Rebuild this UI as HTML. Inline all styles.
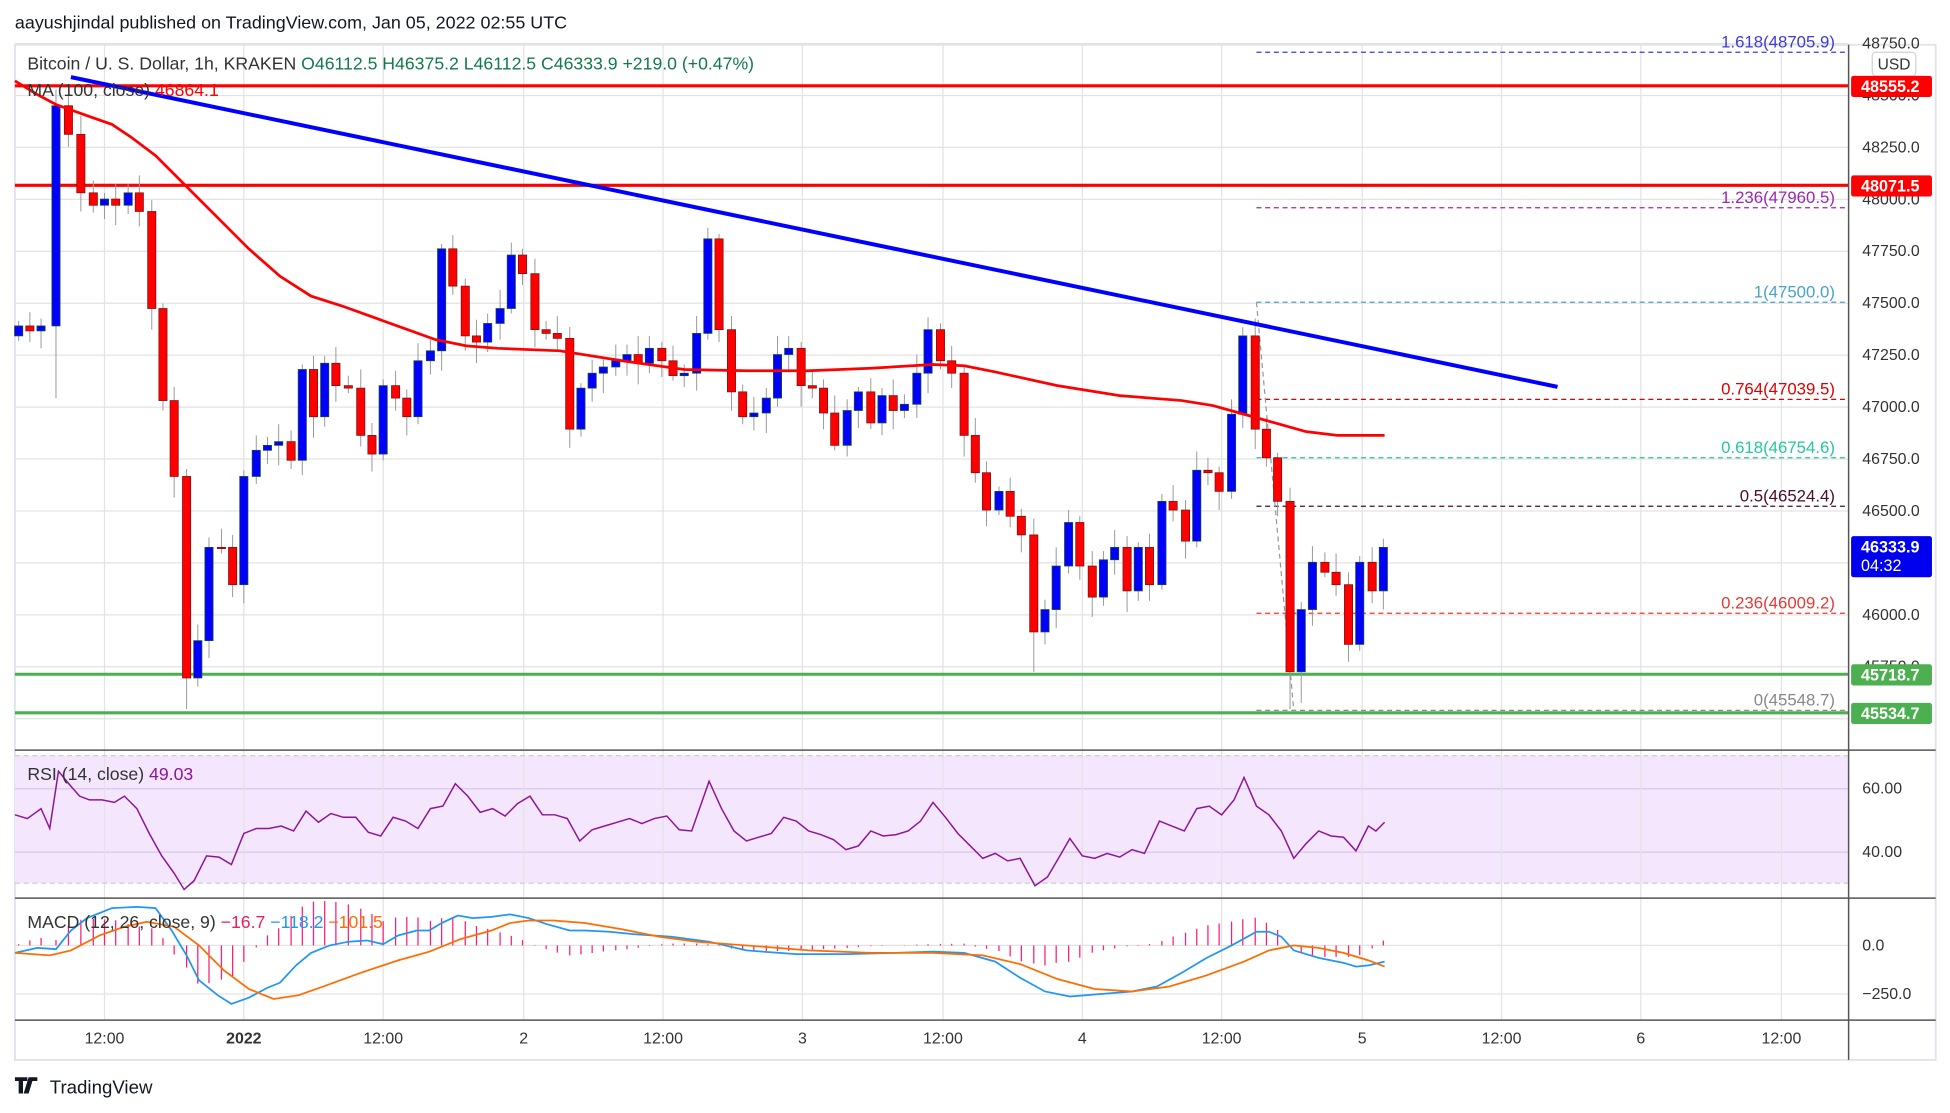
<!DOCTYPE html>
<html><head><meta charset="utf-8"><style>
html,body{margin:0;padding:0;background:#fff;width:1950px;height:1113px;overflow:hidden}
svg{display:block;font-family:"Liberation Sans",sans-serif}
</style></head><body>
<svg id="s" width="1950" height="1113" viewBox="0 0 1567.5 894.7" preserveAspectRatio="none" xmlns="http://www.w3.org/2000/svg">
<rect x="0" y="0" width="1567.5" height="894.7" fill="#fff"/>
<text x="12" y="23" font-size="14.4" fill="#131722">aayushjindal published on TradingView.com, Jan 05, 2022 02:55 UTC</text>
<rect x="12" y="36" width="1544" height="816" fill="#fff" stroke="#e0e3eb" stroke-width="1.5"/>
<rect x="12" y="607.5" width="1474" height="102.5" fill="#f3e6fd"/>
<g id="grid" stroke="#e3e3e3" stroke-width="1"></g>
<g stroke="#c8c8d0" stroke-width="0.9" stroke-dasharray="4,3"><line x1="12" y1="607.5" x2="1486" y2="607.5"/><line x1="12" y1="710" x2="1486" y2="710"/></g>
<g id="fib"></g>
<line x1="12" y1="69" x2="1486" y2="69" stroke="#f00" stroke-width="2.5"/>
<line x1="12" y1="149" x2="1486" y2="149" stroke="#f00" stroke-width="2.5"/>
<line x1="12" y1="542" x2="1486" y2="542" stroke="#4caf50" stroke-width="2.5"/>
<line x1="12" y1="573" x2="1486" y2="573" stroke="#4caf50" stroke-width="2.5"/>
<g id="candles"></g>
<polyline id="ma" fill="none" stroke="#f00" stroke-width="2.2"/>
<line x1="57" y1="62" x2="1252" y2="311" stroke="#0000ff" stroke-width="3.2"/>
<polyline id="rsi" fill="none" stroke="#8e1599" stroke-width="1.2"/>
<g id="hist" stroke="#ff1a75" stroke-width="1"></g>
<polyline id="ml" fill="none" stroke="#2196f3" stroke-width="1.4"/>
<polyline id="sl" fill="none" stroke="#ff6d00" stroke-width="1.4"/>
<g stroke="#555" stroke-width="1.2"><line x1="1486" y1="36" x2="1486" y2="852"/><line x1="12" y1="603" x2="1556" y2="603"/><line x1="12" y1="722" x2="1556" y2="722"/><line x1="12" y1="820" x2="1556" y2="820"/></g>
<g id="axis" font-size="12.8" fill="#333"></g>
<g font-size="14.2">
<text x="22" y="56" fill="#333">Bitcoin / U. S. Dollar, 1h, KRAKEN <tspan fill="#137a4a">O46112.5 H46375.2 L46112.5 C46333.9 +219.0 (+0.47%)</tspan></text>
<text x="22" y="77" fill="#333">MA (100, close) <tspan fill="#f00">46864.1</tspan></text>
<text x="22" y="627" fill="#333">RSI (14, close) <tspan fill="#8e1599">49.03</tspan></text>
<text x="22" y="746" fill="#333">MACD (12, 26, close, 9) <tspan fill="#e91e63">−16.7</tspan> <tspan fill="#2196f3">−118.2</tspan> <tspan fill="#ff6d00">−101.5</tspan></text>
</g>
<rect x="1505" y="42" width="35" height="19" rx="3" fill="#fff" stroke="#d0d3db"/>
<text x="1522.5" y="56" font-size="12.5" fill="#333" text-anchor="middle">USD</text>
<g font-size="13" font-weight="bold" fill="#fff">
<rect x="1488" y="61" width="65" height="17" rx="2" fill="#f00"/><text x="1496" y="74">48555.2</text>
<rect x="1488" y="141" width="65" height="17" rx="2" fill="#f00"/><text x="1496" y="154">48071.5</text>
<rect x="1488" y="534" width="65" height="17" rx="2" fill="#4caf50"/><text x="1496" y="547">45718.7</text>
<rect x="1488" y="565" width="65" height="17" rx="2" fill="#4caf50"/><text x="1496" y="578">45534.7</text>
<rect x="1488" y="431" width="65" height="33" rx="2" fill="#0000ee"/><text x="1496" y="444">46333.9</text><text x="1496" y="459" font-weight="normal">04:32</text>
</g>
<g transform="translate(12,866)"><path d="M0 0h10v3h-3.5v10h-3.5v-10h-3z M11 0h4l-4 13h-4z M13 0h5v3h-4z" fill="#131722"/></g>
<text x="40" y="879" font-size="15" fill="#131722">TradingView</text>
</svg>
<script>
const NS="http://www.w3.org/2000/svg";
function el(p,t,a){const e=document.createElementNS(NS,t);for(const k in a)e.setAttribute(k,a[k]);p.appendChild(e);return e;}
const g=document.getElementById('grid'),ax=document.getElementById('axis');
const py=p=>35+(48750-p)/250*41.75;
for(let p=45500;p<=48750;p+=250){const y=py(p);el(g,'line',{x1:12,y1:y,x2:1486,y2:y});if(p>45500){const t=el(ax,'text',{x:1497,y:y+4});t.textContent=p.toFixed(1);}}
[634,685].forEach((y,i)=>{el(g,'line',{x1:12,y1:y,x2:1486,y2:y,stroke:'#d8c8e8'});const t=el(ax,'text',{x:1497,y:y+4});t.textContent=i?'40.00':'60.00';});
[760,799].forEach((y,i)=>{el(g,'line',{x1:12,y1:y,x2:1486,y2:y});const t=el(ax,'text',{x:1497,y:y+4});t.textContent=i?'−250.0':'0.0';});
const xs=[[84,'12:00'],[196,'2022'],[308,'12:00'],[421,'2'],[533,'12:00'],[645,'3'],[758,'12:00'],[870,'4'],[982,'12:00'],[1095,'5'],[1207,'12:00'],[1319,'6'],[1432,'12:00']];
xs.forEach(([x,l])=>{el(g,'line',{x1:x,y1:36,x2:x,y2:820});const t=el(ax,'text',{x:x,y:839,'text-anchor':'middle','font-weight':l=='2022'?'bold':'normal'});t.textContent=l;});
const f=document.getElementById('fib');
[[42,'#3d3dd6','1.618(48705.9)'],[167,'#9c27b0','1.236(47960.5)'],[243,'#4aa3c8','1(47500.0)'],[321,'#d00','0.764(47039.5)'],[368,'#26c6a0','0.618(46754.6)'],[407,'#4a0d2a','0.5(46524.4)'],[493,'#e53935','0.236(46009.2)'],[571,'#888','0(45548.7)']].forEach(([y,c,l])=>{
el(f,'line',{x1:1010,y1:y,x2:1486,y2:y,stroke:c,'stroke-width':1,'stroke-dasharray':'4,3'});
const t=el(f,'text',{x:1475,y:y-4,'text-anchor':'end','font-size':13.5,fill:c});t.textContent=l;});
el(f,'line',{x1:1010,y1:243,x2:1040,y2:571,stroke:'#999','stroke-width':1,'stroke-dasharray':'4,3'});
const C=[[15,262],[24,266],[33,262],[45,85],[55,108],[65,155],[75,165],[84,160],[93,165],[103,155],[112,170],[122,248],[131,322],[140,383],[150,545],[159,515],[168,440],[178,440],[187,470],[196,383],[206,362],[215,358],[224,355],[234,370],[243,297],[252,335],[261,292],[270,310],[280,312],[290,350],[299,365],[308,310],[318,320],[327,335],[336,290],[346,282],[355,200],[364,230],[374,270],[383,275],[392,260],[402,248],[411,205],[420,220],[430,265],[439,268],[448,272],[458,345],[467,312],[476,300],[485,295],[495,290],[504,285],[513,292],[522,280],[532,290],[541,302],[550,300],[560,268],[569,192],[578,265],[588,315],[597,335],[606,332],[616,320],[625,285],[634,280],[644,310],[653,312],[662,332],[671,358],[681,330],[690,315],[700,340],[709,318],[718,330],[727,325],[737,300],[746,265],[756,290],[765,300],[775,350],[784,380],[793,410],[803,395],[812,415],[821,430],[831,508],[840,490],[849,455],[859,420],[868,455],[878,480],[887,450],[896,440],[906,475],[915,440],[924,470],[934,403],[943,410],[953,435],[962,378],[971,380],[980,395],[990,333],[999,270],[1009,345],[1018,368],[1027,403],[1037,540],[1046,490],[1055,452],[1065,460],[1074,470],[1084,518],[1093,452],[1103,475],[1112,440]];
const cg=document.getElementById('candles');
const lows={150:570,159:552,1037:570,1046:565,831:540,45:320,140:400};
let o=270;
C.forEach(([x,c],i)=>{const up=c<o;const top=Math.min(o,c),bot=Math.max(o,c);
const hi=top-(4+(i*7)%12),lo=lows[x]||bot+(4+(i*5)%14);
el(cg,'line',{x1:x,y1:hi,x2:x,y2:lo,stroke:'#999','stroke-width':0.8});
el(cg,'rect',{x:x-3.3,y:top,width:6.6,height:Math.max(bot-top,1),fill:up?'#0000ff':'#ff0000',stroke:up?'#1a4d2e':'#7a1010','stroke-width':0.6});o=c;});
const pts=a=>a.map(p=>p.join(',')).join(' ');
document.getElementById('ma').setAttribute('points',pts([[12,65],[30,76],[45,84],[70,93],[90,100],[105,110],[125,125],[150,150],[175,175],[200,200],[225,222],[250,238],[275,246],[300,255],[325,264],[350,273],[375,278],[400,280],[450,282],[500,290],[550,297],[600,298],[650,298],[700,296],[750,293],[775,294],[800,299],[850,310],[900,318],[950,322],[975,326],[1000,333],[1025,340],[1050,347],[1075,350],[1113,350]]));
document.getElementById('rsi').setAttribute('points',pts([[12,655],[22,658],[33,650],[40,666],[47,620],[57,632],[64,640],[72,643],[82,643],[92,645],[100,640],[110,650],[120,670],[130,688],[140,702],[148,715],[156,708],[166,688],[176,689],[186,695],[196,670],[206,666],[216,666],[226,664],[236,668],[246,652],[256,661],[266,654],[276,657],[286,657],[296,669],[306,672],[316,657],[326,660],[336,666],[346,650],[356,648],[366,630],[376,640],[386,653],[396,650],[406,656],[416,646],[426,640],[436,655],[446,655],[456,658],[466,676],[476,667],[486,664],[496,661],[506,658],[516,662],[526,658],[536,656],[546,667],[556,668],[570,628],[580,650],[590,668],[600,676],[610,673],[620,670],[630,657],[640,660],[650,668],[660,671],[670,675],[680,683],[690,680],[700,668],[710,672],[720,671],[730,668],[740,660],[750,645],[760,657],[770,670],[780,680],[790,690],[800,686],[810,692],[820,690],[832,712],[842,705],[852,688],[860,674],[870,688],[880,690],[890,686],[900,689],[910,683],[920,686],[932,660],[942,664],[952,668],[962,650],[972,648],[982,655],[992,643],[1000,625],[1010,648],[1020,655],[1030,668],[1040,690],[1050,678],[1060,668],[1070,672],[1080,673],[1090,684],[1100,664],[1106,668],[1113,661]]));
const B=[[12,766],[30,762],[45,763],[57,748],[70,738],[90,730],[110,729],[125,730],[138,748],[150,768],[160,788],[175,800],[186,807],[200,802],[215,794],[225,790],[238,776],[250,766],[265,760],[280,757],[295,756],[308,759],[320,752],[335,748],[345,748],[355,742],[368,736],[380,738],[395,737],[410,735],[425,738],[440,743],[458,748],[470,748],[490,749],[510,751],[540,753],[570,757],[600,764],[640,767],[680,767],[720,766],[750,765],[775,766],[800,773],[820,786],[840,797],[860,801],[885,799],[910,797],[930,793],[950,782],[970,770],[990,760],[1010,749],[1020,749],[1030,753],[1040,764],[1060,770],[1080,774],[1090,777],[1100,776],[1113,773]];
const O=[[12,766],[40,768],[57,764],[80,752],[100,745],[118,741],[140,745],[160,760],[180,780],[200,795],[220,803],[240,800],[260,793],[290,782],[320,772],[345,765],[370,755],[395,748],[410,742],[425,740],[445,740],[470,742],[500,747],[530,753],[560,757],[600,760],[650,764],[700,766],[750,766],[790,768],[820,775],[850,787],[880,795],[910,797],[940,793],[970,784],[1000,773],[1020,764],[1040,760],[1060,762],[1080,766],[1100,772],[1113,777]];
document.getElementById('ml').setAttribute('points',pts(B));
document.getElementById('sl').setAttribute('points',pts(O));
const interp=(a,x)=>{for(let i=1;i<a.length;i++)if(x<=a[i][0]){const t=(x-a[i-1][0])/(a[i][0]-a[i-1][0]);return a[i-1][1]+t*(a[i][1]-a[i-1][1]);}return a[a.length-1][1];};
const hg=document.getElementById('hist');
C.forEach(([x])=>{const d=(interp(B,x)-interp(O,x))*1.15;el(hg,'line',{x1:x,y1:760,x2:x,y2:760+d});});
</script>
</body></html>
